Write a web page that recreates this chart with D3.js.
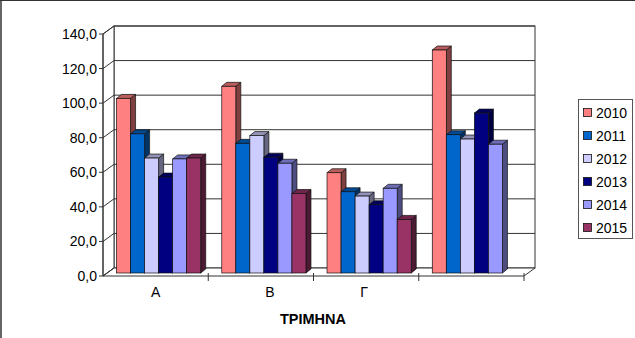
<!DOCTYPE html>
<html><head><meta charset="utf-8">
<script src="https://cdn.jsdelivr.net/npm/d3@7"></script>
<style>body{margin:0;background:#fff}svg{display:block;font-family:"Liberation Sans",Arial,sans-serif}</style>
</head><body>
<script>
const categories = ["Α", "Β", "Γ", ""];
const seriesNames = ["2010", "2011", "2012", "2013", "2014", "2015"];
const v2010 = [101, 108, 58, 129];
const v2011 = [80.5, 75, 47, 80];
const v2012 = [66.5, 79.5, 44.5, 77.5];
const v2013 = [55.5, 67, 39.5, 92.5];
const v2014 = [66, 63.5, 49, 74.5];
const v2015 = [66.5, 46, 31, null];
const yTicks = [0, 20, 40, 60, 80, 100, 120, 140];
const colors = ["#FF8080", "#0066CC", "#CCCCFF", "#000080", "#9999FF", "#993366"];
const seriesValues = [v2010, v2011, v2012, v2013, v2014, v2015];

const W = 635, H = 338;
const svg = d3.select("body").append("svg").attr("width", W).attr("height", H);

// frame
svg.append("line").attr("x1", 0).attr("x2", W).attr("y1", 0.5).attr("y2", 0.5).attr("stroke", "#333");
svg.append("line").attr("x1", 1).attr("x2", 1).attr("y1", 0).attr("y2", H).attr("stroke", "#333").attr("stroke-width", 1.5);

const x = d3.scaleBand().domain(d3.range(categories.length)).range([103, 524]);
const inner = d3.scaleBand().domain(seriesNames).range([0, x.bandwidth()]).paddingInner(0).paddingOuter(0.75);
const y = d3.scaleLinear().domain([0, 140]).range([276, 34]);
const DX = 11, DY = -8;       // floor depth
const bOX = 3, bOY = -3;      // bar front offset
const bDX = 5, bDY = -4;      // bar depth

const gridCol = "#333";
// back wall
svg.append("rect").attr("x", 103 + DX).attr("y", y(140) + DY).attr("width", 524 - 103).attr("height", y(0) - y(140))
  .attr("fill", "#fff").attr("stroke", gridCol);
// side wall
svg.append("path").attr("d", `M103,${y(0)}L103,${y(140)}L${103 + DX},${y(140) + DY}L${103 + DX},${y(0) + DY}Z`)
  .attr("fill", "#fff").attr("stroke", gridCol);
// floor
svg.append("path").attr("d", `M103,${y(0)}L524,${y(0)}L${524 + DX},${y(0) + DY}L${103 + DX},${y(0) + DY}Z`)
  .attr("fill", "#fff").attr("stroke", gridCol);
// gridlines
yTicks.forEach(t => {
  if (t === 0) return;
  svg.append("line").attr("x1", 103 + DX).attr("x2", 524 + DX).attr("y1", y(t) + DY).attr("y2", y(t) + DY).attr("stroke", gridCol);
});
yTicks.forEach(t => {
  svg.append("line").attr("x1", 103).attr("x2", 103 + DX).attr("y1", y(t)).attr("y2", y(t) + DY).attr("stroke", gridCol);
  svg.append("line").attr("x1", 99).attr("x2", 103).attr("y1", y(t)).attr("y2", y(t)).attr("stroke", gridCol);
  svg.append("text").attr("x", 97).attr("y", y(t) + 5).attr("text-anchor", "end").attr("font-size", 14)
    .text(d3.format(".1f")(t).replace(".", ","));
});
// y axis line
svg.append("line").attr("x1", 103).attr("x2", 103).attr("y1", y(0)).attr("y2", y(140)).attr("stroke", gridCol);

// bars
const bars = svg.append("g");
categories.forEach((c, ci) => {
  seriesNames.forEach((s, si) => {
    const v = seriesValues[si][ci];
    if (v == null) return;
    const x0 = x(ci) + inner(s) + bOX, w = inner.bandwidth();
    const top = y(v) + bOY, base = y(0) + bOY;
    const col = d3.color(colors[si]);
    const sideCol = d3.rgb(col.r * 0.5, col.g * 0.5, col.b * 0.5);
    const topCol = d3.rgb(col.r * 0.72, col.g * 0.72, col.b * 0.72);
    bars.append("path").attr("d", `M${x0 + w},${top}L${x0 + w + bDX},${top + bDY}L${x0 + w + bDX},${base + bDY}L${x0 + w},${base}Z`)
      .attr("fill", sideCol).attr("stroke", "#111").attr("stroke-width", 0.7);
    bars.append("path").attr("d", `M${x0},${top}L${x0 + bDX},${top + bDY}L${x0 + w + bDX},${top + bDY}L${x0 + w},${top}Z`)
      .attr("fill", topCol).attr("stroke", "#111").attr("stroke-width", 0.7);
    bars.append("rect").attr("x", x0).attr("y", top).attr("width", w).attr("height", base - top)
      .attr("fill", colors[si]).attr("stroke", "#111").attr("stroke-width", 0.7);
  });
});

// x axis ticks
d3.range(categories.length + 1).forEach(i => {
  const xx = i < categories.length ? x(i) : x(categories.length - 1) + x.bandwidth();
  if (i > 0) svg.append("line").attr("x1", xx).attr("x2", xx).attr("y1", y(0) - 3).attr("y2", y(0) + 5).attr("stroke", gridCol);
});
const labelShift = [0, 9, -2, 0];
categories.forEach((c, ci) => {
  svg.append("text").attr("x", x(ci) + x.bandwidth() / 2 + labelShift[ci]).attr("y", 297)
    .attr("text-anchor", "middle").attr("font-size", 14).text(c);
});
svg.append("text").attr("x", 313).attr("y", 324).attr("text-anchor", "middle").attr("font-size", 14.5)
  .attr("font-weight", "bold").text("ΤΡΙΜΗΝΑ");

// legend
const lg = svg.append("g");
lg.append("rect").attr("x", 578.5).attr("y", 99.5).attr("width", 54).attr("height", 139).attr("fill", "#fff").attr("stroke", "#555");
seriesNames.forEach((s, si) => {
  const yy = 108 + si * 23;
  lg.append("rect").attr("x", 583.5).attr("y", yy + 0.5).attr("width", 8).attr("height", 8).attr("fill", colors[si]).attr("stroke", "#111").attr("stroke-width", 0.8);
  lg.append("text").attr("x", 596).attr("y", yy + 9.5).attr("font-size", 14).text(s);
});
</script>
</body></html>
